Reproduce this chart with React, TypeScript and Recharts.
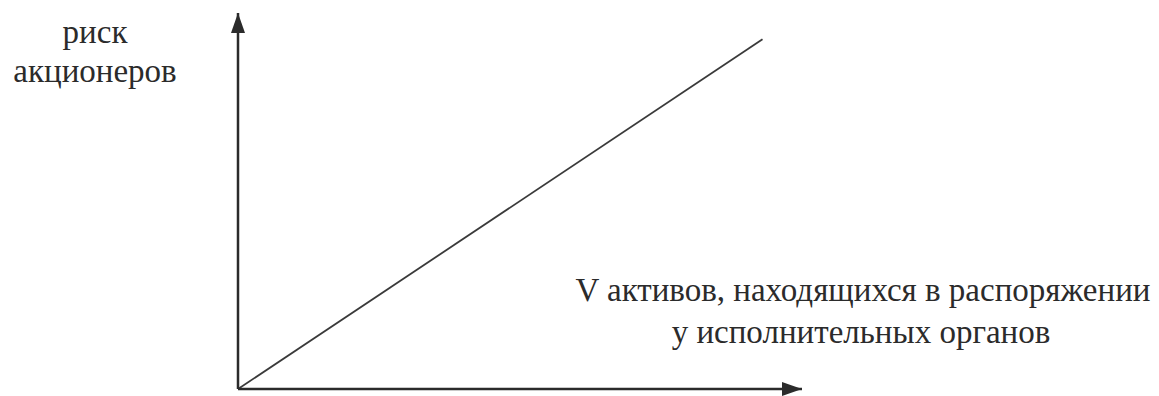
import React from "react";
import { ComposedChart, Line, Scatter, XAxis, YAxis, Label } from "recharts";

// growth line: from origin to the upper right
const linePoints = [
  { x: 0, y: 0 },
  { x: 93, y: 93 },
];
// arrowheads at the ends of the axes
const upArrow = [{ x: 0, y: 100 }];
const rightArrow = [{ x: 100, y: 0 }];

const yTitle = ["риск", "акционеров"];
const xTitle = ["V активов, находящихся в распоряжении", "у исполнительных органов"];

const INK = "#2b2b2b";
const FONT = "'Liberation Serif', 'DejaVu Serif', serif";

const UpHead = (props: { cx?: number; cy?: number }) => {
  const { cx, cy } = props;
  if (cx === undefined || cy === undefined) return null;
  return <polygon points={`${cx},${cy} ${cx - 7},${cy + 20} ${cx + 7},${cy + 20}`} fill={INK} />;
};

const RightHead = (props: { cx?: number; cy?: number }) => {
  const { cx, cy } = props;
  if (cx === undefined || cy === undefined) return null;
  return <polygon points={`${cx},${cy} ${cx - 20},${cy - 7} ${cx - 20},${cy + 7}`} fill={INK} />;
};

const YTitle = () => (
  <text fontFamily={FONT} fontSize={33} fill={INK} textAnchor="middle">
    <tspan x={95} y={43}>{yTitle[0]}</tspan>
    <tspan x={95} y={82}>{yTitle[1]}</tspan>
  </text>
);

const XTitle = () => (
  <text fontFamily={FONT} fontSize={33} fill={INK} textAnchor="middle">
    <tspan x={863} y={301}>{xTitle[0]}</tspan>
    <tspan x={861} y={343}>{xTitle[1]}</tspan>
  </text>
);

export default function App() {
  return (
    <div style={{ position: "absolute", left: 0, top: 0, background: "#fff" }}>
      <ComposedChart
        width={1159}
        height={396}
        data={linePoints}
        margin={{ top: 13, right: 357, bottom: 6, left: 237 }}
      >
        <XAxis
          type="number"
          dataKey="x"
          domain={[0, 100]}
          height={1}
          tick={false}
          tickLine={false}
          axisLine={{ stroke: INK, strokeWidth: 2.5 }}
        >
          <Label content={<XTitle />} />
        </XAxis>
        <YAxis
          type="number"
          dataKey="y"
          domain={[0, 100]}
          width={1}
          tick={false}
          tickLine={false}
          axisLine={{ stroke: INK, strokeWidth: 2.5 }}
        >
          <Label content={<YTitle />} />
        </YAxis>
        <Line
          dataKey="y"
          stroke="#3a3a3a"
          strokeWidth={1.8}
          dot={false}
          isAnimationActive={false}
        />
        <Scatter data={upArrow} dataKey="y" shape={<UpHead />} isAnimationActive={false} />
        <Scatter data={rightArrow} dataKey="y" shape={<RightHead />} isAnimationActive={false} />
      </ComposedChart>
    </div>
  );
}
